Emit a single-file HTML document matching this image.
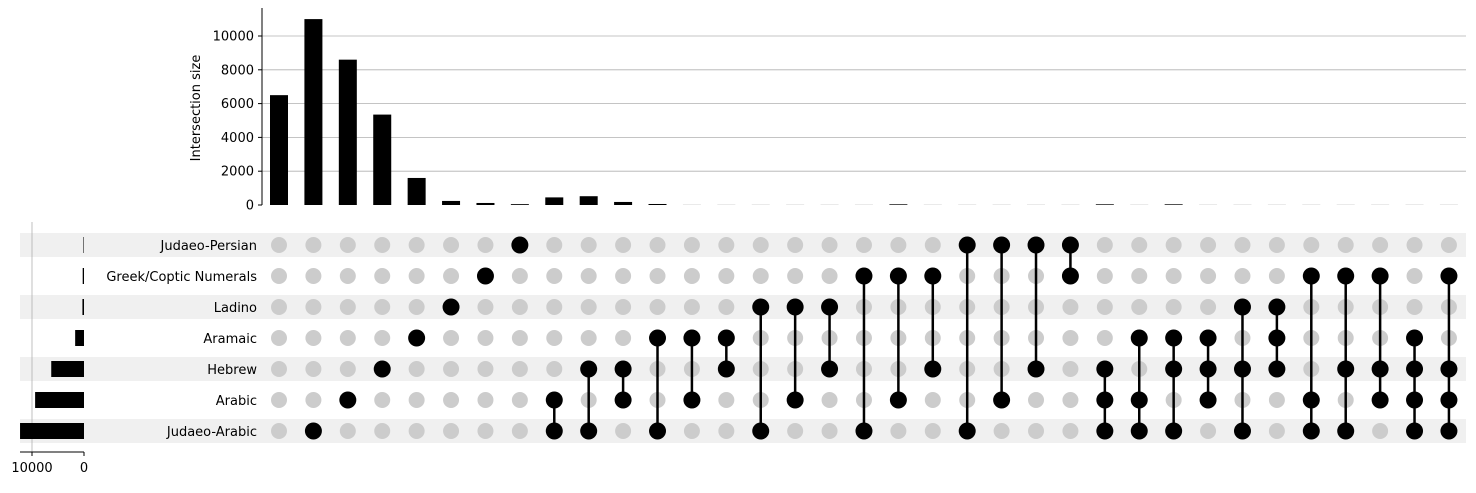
<!DOCTYPE html>
<html><head><meta charset="utf-8"><style>
body{margin:0;background:#fff;width:1476px;height:488px;overflow:hidden}
svg text{font-family:"DejaVu Sans","Liberation Sans",sans-serif;font-size:13px;fill:#000}
</style></head><body>
<svg id="chart" width="1476" height="488" xmlns="http://www.w3.org/2000/svg"></svg>
<script>
const sets = ["Judaeo-Persian","Greek/Coptic Numerals","Ladino","Aramaic","Hebrew","Arabic","Judaeo-Arabic"];
const setSizes = [100,250,300,1700,6300,9400,12300];
const intersections = [[],[6],[5],[4],[3],[2],[1],[0],[5,6],[4,6],[4,5],[3,6],[3,5],[3,4],[2,6],[2,5],[2,4],[1,6],[1,5],[1,4],[0,6],[0,5],[0,4],[0,1],[4,5,6],[3,5,6],[3,4,6],[3,4,5],[2,4,6],[2,3,4],[1,5,6],[1,4,6],[1,4,5],[3,4,5,6],[1,4,5,6]];
const interSizes = [6500,11000,8600,5350,1600,240,120,50,450,520,180,60,5,5,5,5,5,5,40,5,5,5,5,5,40,5,40,5,5,5,5,5,5,5,5];
const yTicks = [0,2000,4000,6000,8000,10000];
const xTicksSet = [10000,0];

const svg = document.getElementById('chart');
const NS = 'http://www.w3.org/2000/svg';
function mk(tag, attrs, parent){const e=document.createElementNS(NS,tag);for(const k in attrs)e.setAttribute(k,attrs[k]);(parent||svg).appendChild(e);return e;}
const colX = i => 279 + i*34.41;
const rowY = r => 245 + r*31;
const yScale = v => 205 - v*0.0169;
const xSet = v => 84 - v*0.0052;

sets.forEach((s,r)=>{ if(r%2===0){const st=mk('rect',{x:20,y:rowY(r)-12,width:1446,height:24,fill:'#f0f0f0'});

}});
yTicks.forEach(t=>{const y=yScale(t);
 if(t>0){const g=mk('line',{x1:262,x2:1466,y1:y,y2:y,stroke:'#b0b0b0','stroke-width':0.8});
 
 }
 mk('line',{x1:258,x2:262,y1:y,y2:y,stroke:'#000'});
 const tx=mk('text',{x:254,y:y+4.5,'text-anchor':'end'});tx.textContent=t;
 
 
});
const sp=mk('line',{x1:262,x2:262,y1:8,y2:205,stroke:'#000','stroke-width':1});


const yl=mk('text',{transform:'translate(200,108) rotate(-90)','text-anchor':'middle'});yl.textContent='Intersection size';


interSizes.forEach((v,i)=>{const y=yScale(v);
 const b=mk('rect',{x:colX(i)-9,y:y,width:18,height:205-y,fill:'#000'});
 
 });
const sg=mk('line',{x1:xSet(10000),x2:xSet(10000),y1:222,y2:452,stroke:'#b0b0b0','stroke-width':0.8});


mk('line',{x1:20,x2:84,y1:452,y2:452,stroke:'#000'});
xTicksSet.forEach(t=>{const x=xSet(t);mk('line',{x1:x,x2:x,y1:452,y2:456,stroke:'#000'});
 const tx=mk('text',{x:x,y:472,'text-anchor':'middle'});tx.textContent=t;
 
 });
sets.forEach((s,r)=>{const y=rowY(r);const x=Math.max(20,xSet(setSizes[r]));
 const b=mk('rect',{x:x,y:y-8,width:84-x,height:16,fill:'#000'});
 
 
 const t=mk('text',{x:257,y:y+5,'text-anchor':'end'});t.textContent=s;
 
 });
// inactive dots first
intersections.forEach((m,i)=>{const x=colX(i);
 sets.forEach((s,r)=>{ if(!m.includes(r)){
  const c=mk('circle',{cx:x,cy:rowY(r),r:8,fill:'#cccccc'});
  
  }});
});
intersections.forEach((m,i)=>{const x=colX(i);
 if(m.length>1){const l=mk('line',{x1:x,x2:x,y1:rowY(Math.min(...m)),y2:rowY(Math.max(...m)),stroke:'#000','stroke-width':2.5});
 
 }
 m.forEach(r=>{
  const c=mk('circle',{cx:x,cy:rowY(r),r:8.5,fill:'#000'});
  
  });
});
</script>
</body></html>
